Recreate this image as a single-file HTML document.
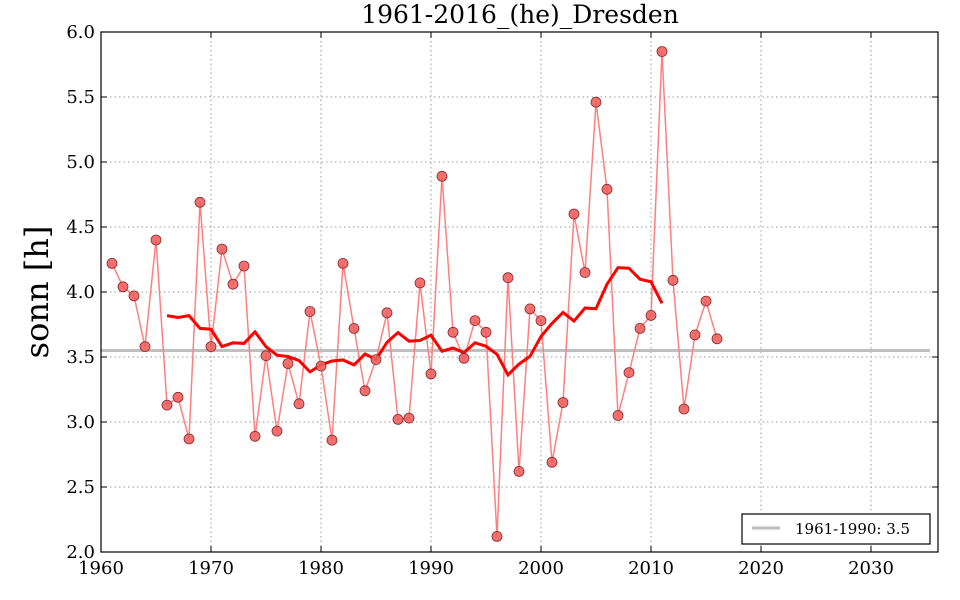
<!DOCTYPE html>
<html><head><meta charset="utf-8"><style>
html,body{margin:0;padding:0;background:#fff;width:960px;height:600px;overflow:hidden}
svg{display:block}
text{font-family:"DejaVu Serif","Liberation Serif",serif;fill:#000}
</style></head><body>
<svg id="s" width="960" height="600" xmlns="http://www.w3.org/2000/svg"></svg>
<script>
const d=[4.22,4.04,3.97,3.58,4.40,3.13,3.19,2.87,4.69,3.58,4.33,4.06,4.20,2.89,3.51,2.93,3.45,3.14,3.85,3.43,2.86,4.22,3.72,3.24,3.48,3.84,3.02,3.03,4.07,3.37,4.89,3.69,3.49,3.78,3.69,2.12,4.11,2.62,3.87,3.78,2.69,3.15,4.60,4.15,5.46,4.79,3.05,3.38,3.72,3.82,5.85,4.09,3.10,3.67,3.93,3.64];
const L=101,R=938,T=32,B=552;
const X=y=>L+(y-1960)*11, Y=v=>B-(v-2)*130;
let h='';
for(let yr=1970;yr<=2030;yr+=10)h+=`<line x1="${X(yr)}" y1="${T}" x2="${X(yr)}" y2="${B}" stroke="#999" stroke-dasharray="1.5,3" stroke-width="1"/>`;
for(let v=2.5;v<6;v+=0.5)h+=`<line x1="${L}" y1="${Y(v)}" x2="${R}" y2="${Y(v)}" stroke="#999" stroke-dasharray="1.5,3" stroke-width="1"/>`;
h+=`<line x1="${L}" y1="${Y(3.55)}" x2="930" y2="${Y(3.55)}" stroke="#bfbfbf" stroke-width="3"/>`;
h+=`<polyline fill="none" stroke="#ff7f7f" stroke-width="1.5" points="${d.map((v,i)=>X(1961+i)+','+Y(v)).join(' ')}"/>`;
let ma=[];for(let i=5;i<d.length-5;i++){let s=0;for(let j=i-5;j<=i+5;j++)s+=d[j];ma.push(X(1961+i)+','+Y(s/11));}
h+=`<polyline fill="none" stroke="#ff0000" stroke-width="3" points="${ma.join(' ')}"/>`;
d.forEach((v,i)=>h+=`<circle cx="${X(1961+i)}" cy="${Y(v)}" r="5" fill="#f06060" stroke="#8a2a2a" stroke-width="0.8" fill-opacity="0.9"/>`);
h+=`<rect x="${L}" y="${T}" width="${R-L}" height="${B-T}" fill="none" stroke="#000" stroke-width="1.2"/>`;
for(let yr=1960;yr<=2030;yr+=10){const x=X(yr);h+=`<line x1="${x}" y1="${B}" x2="${x}" y2="${B-6}" stroke="#000"/><line x1="${x}" y1="${T}" x2="${x}" y2="${T+6}" stroke="#000"/><text x="${x}" y="${B+22}" font-size="18" text-anchor="middle">${yr}</text>`;}
for(let v=2;v<=6.001;v+=0.5){const y=Y(v);h+=`<line x1="${L}" y1="${y}" x2="${L+6}" y2="${y}" stroke="#000"/><line x1="${R}" y1="${y}" x2="${R-6}" y2="${y}" stroke="#000"/><text x="${L-6}" y="${y+6}" font-size="18" text-anchor="end">${v.toFixed(1)}</text>`;}
h+=`<text x="520" y="23" font-size="25" text-anchor="middle">1961-2016_(he)_Dresden</text>`;
h+=`<text transform="translate(48,292) rotate(-90)" font-size="32" text-anchor="middle">sonn [h]</text>`;
h+=`<rect x="742" y="514" width="188" height="30" fill="#fff" stroke="#000" stroke-width="1.2"/><line x1="752" y1="528" x2="780" y2="528" stroke="#bfbfbf" stroke-width="3"/><text x="795" y="534" font-size="15">1961-1990: 3.5</text>`;
document.getElementById('s').innerHTML=h;
</script>
</body></html>
